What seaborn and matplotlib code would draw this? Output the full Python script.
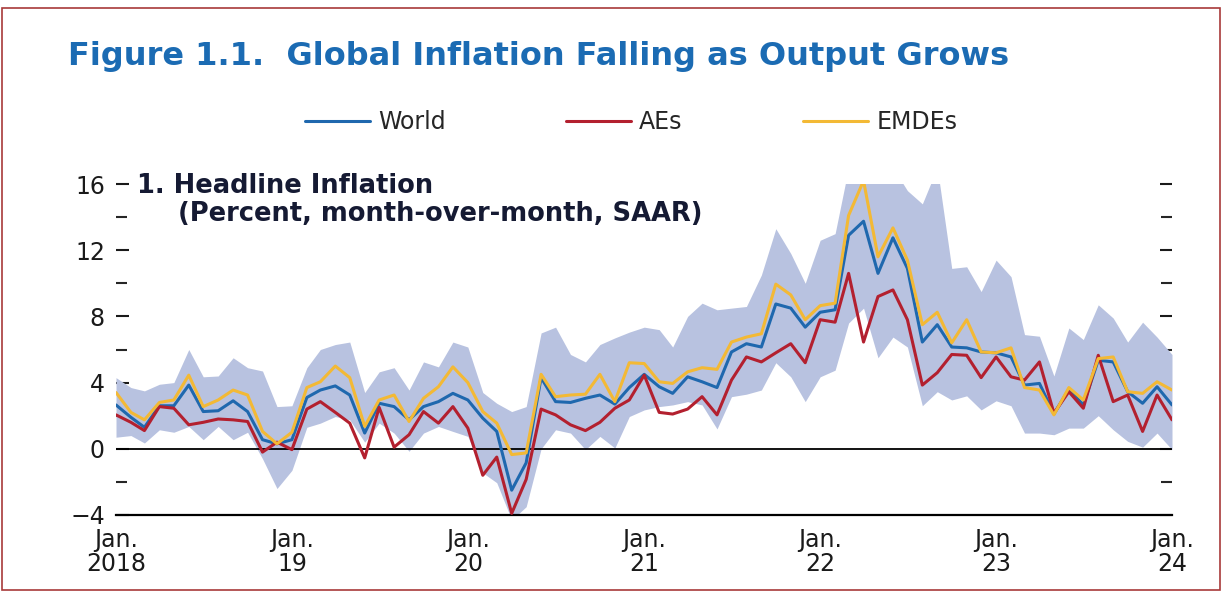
import seaborn as sns
import pandas as pd
import matplotlib.pyplot as plt
from matplotlib.patches import Rectangle

# monthly data, Jan 2018 - Jan 2024 (percent, m/m SAAR)
months = pd.date_range('2018-01-01', '2024-01-01', freq='MS')

world = [2.65, 1.9, 1.3, 2.6, 2.6, 3.85, 2.25, 2.3, 2.9, 2.25, 0.55, 0.3,
         0.55, 3.1, 3.55, 3.8, 3.25, 0.95, 2.75, 2.55, 1.75, 2.55, 2.85, 3.35,
         2.95, 1.85, 1.05, -2.5, -0.85, 4.3, 2.85, 2.8, 3.05, 3.25, 2.7, 3.7,
         4.5, 3.75, 3.35, 4.35, 4.05, 3.7, 5.85, 6.35, 6.15, 8.75, 8.5, 7.35,
         8.25, 8.4, 12.9, 13.75, 10.6, 12.75, 10.9, 6.45, 7.5, 6.15, 6.1, 5.85,
         5.8, 5.55, 3.85, 3.95, 2.1, 3.6, 2.65, 5.35, 5.25, 3.45, 2.75, 3.75,
         2.65]
aes = [2.05, 1.6, 1.1, 2.55, 2.45, 1.45, 1.6, 1.8, 1.75, 1.65, -0.2, 0.4,
       -0.05, 2.4, 2.85, 2.2, 1.55, -0.55, 2.5, 0.1, 0.85, 2.25, 1.55, 2.55,
       1.25, -1.6, -0.5, -3.9, -1.85, 2.4, 2.05, 1.45, 1.1, 1.6, 2.45, 2.95,
       4.45, 2.2, 2.1, 2.4, 3.15, 2.05, 4.15, 5.55, 5.25, 5.8, 6.35, 5.2,
       7.8, 7.65, 10.6, 6.45, 9.2, 9.6, 7.8, 3.85, 4.6, 5.7, 5.65, 4.3,
       5.55, 4.35, 4.15, 5.25, 2.15, 3.45, 2.45, 5.65, 2.85, 3.25, 1.05, 3.25,
       1.75]
emdes = [3.4, 2.2, 1.75, 2.8, 2.95, 4.45, 2.55, 2.95, 3.55, 3.25, 1.05, 0.3,
         1.0, 3.7, 4.05, 5.0, 4.3, 1.35, 2.95, 3.25, 1.65, 3.05, 3.75, 4.95,
         4.0, 2.25, 1.55, -0.35, -0.25, 4.5, 3.15, 3.25, 3.3, 4.5, 2.85, 5.2,
         5.15, 4.05, 3.95, 4.65, 4.9, 4.8, 6.45, 6.75, 6.95, 9.95, 9.3, 7.8,
         8.65, 8.8, 14.1, 16.2, 11.6, 13.35, 11.4, 7.5, 8.25, 6.4, 7.8, 5.85,
         5.8, 6.1, 3.7, 3.55, 2.05, 3.7, 2.95, 5.45, 5.55, 3.45, 3.35, 4.05,
         3.55]
band_hi = [4.3, 3.7, 3.5, 3.9, 4.0, 6.0, 4.35, 4.4, 5.5, 4.9, 4.7, 2.55,
           2.6, 4.9, 6.0, 6.3, 6.45, 3.4, 4.65, 4.9, 3.55, 5.25, 4.95, 6.45,
           6.15, 3.4, 2.75, 2.25, 2.55, 7.0, 7.35, 5.7, 5.25, 6.3, 6.7, 7.05,
           7.35, 7.2, 6.15, 8.0, 8.8, 8.4, 8.5, 8.6, 10.5, 13.3, 11.8, 10.0,
           12.6, 13.0, 17.0, 17.5, 17.5, 17.0, 15.6, 14.8, 17.0, 10.9, 11.0, 9.5,
           11.4, 10.4, 6.9, 6.8, 4.4, 7.3, 6.6, 8.7, 7.9, 6.45, 7.65, 6.75,
           5.7]
band_lo = [0.7, 0.8, 0.35, 1.15, 1.0, 1.35, 0.55, 1.35, 0.55, 1.0, -0.6, -2.4,
           -1.3, 1.3, 1.55, 1.95, 1.75, 0.4, 1.55, 0.95, -0.15, 0.95, 1.35, 1.05,
           0.75, -1.45, -2.05, -4.3, -3.5, 0.0, 1.15, 0.95, -0.05, 0.75, 0.05, 1.95,
           2.35, 2.55, 2.65, 2.85, 2.65, 1.2, 3.15, 3.3, 3.55, 5.2, 4.35, 2.85,
           4.35, 4.75, 7.6, 8.5, 5.5, 6.75, 6.15, 2.6, 3.45, 2.95, 3.2, 2.35,
           2.9, 2.6, 0.95, 0.95, 0.85, 1.25, 1.25, 2.0, 1.15, 0.45, 0.1, 0.95,
           -0.05]

year_ticks = pd.date_range('2018-01-01', '2024-01-01', freq='YS')
xtick_labels = ['Jan.\n2018', 'Jan.\n19', 'Jan.\n20', 'Jan.\n21',
                'Jan.\n22', 'Jan.\n23', 'Jan.\n24']

colors = {'World': '#1f68ae', 'AEs': '#b3202f', 'EMDEs': '#f3b935'}

df = pd.DataFrame({'month': months, 'World': world, 'AEs': aes, 'EMDEs': emdes})
df_long = df.melt(id_vars='month', var_name='series', value_name='inflation')

sns.set_style('white')
plt.rcParams['font.family'] = ['DejaVu Sans']
plt.rcParams['axes.unicode_minus'] = True

fig = plt.figure(figsize=(12.25, 5.92), dpi=100)
ax = fig.add_axes([116 / 1225, 1 - 515 / 592, 1056 / 1225, 331 / 592])

ax.fill_between(months, band_lo, band_hi, color='#b8c2e0', lw=0, zorder=1)
ax.axhline(0, color='black', lw=1.3, zorder=2)
sns.lineplot(data=df_long, x='month', y='inflation', hue='series',
             palette=colors, lw=2.2, ax=ax, zorder=3)

ax.set_xlim(months[0], months[-1])
ax.set_ylim(-4, 16)
ax.set(xlabel='', ylabel='')

ax.set_xticks(year_ticks)
ax.set_xticklabels(xtick_labels)
ax.set_yticks([-4, 0, 4, 8, 12, 16])
ax.set_yticks([-2, 2, 6, 10, 14], minor=True)

ax.tick_params(axis='x', direction='in', length=8, width=1.6, pad=9,
               labelsize=17, colors='#1a1a1a')
ax.tick_params(axis='y', which='major', direction='in', length=9, width=1.5,
               pad=8, labelsize=17, right=True, left=True, labelright=False,
               colors='#1a1a1a')
ax.tick_params(axis='y', which='minor', direction='in', length=8, width=1.5,
               right=True, left=True)
for lab in ax.get_xticklabels():
    lab.set_linespacing(1.05)

sns.despine(ax=ax, left=True, right=True, top=True)
ax.spines['bottom'].set_linewidth(1.6)
ax.spines['bottom'].set_color('black')

sns.move_legend(ax, 'center', bbox_to_anchor=(0.515, 1 - 122 / 592),
                bbox_transform=fig.transFigure, ncol=3, frameon=False,
                title=None, fontsize=17, handlelength=2.75,
                columnspacing=5.1, handletextpad=0.35)

# titles
fig.text(68 / 1225, 1 - 56 / 592, 'Figure 1.1.  Global Inflation Falling as Output Grows',
         fontsize=23, fontweight='bold', color='#1b6bb3', va='center')
fig.text(137 / 1225, 1 - 173 / 592, '1. Headline Inflation',
         fontsize=18.5, fontweight='bold', color='#151a33', va='top')
fig.text(178 / 1225, 1 - 201 / 592, '(Percent, month-over-month, SAAR)',
         fontsize=18.5, fontweight='bold', color='#151a33', va='top')

fig.patches.append(Rectangle((0.002, 0.003), 0.994, 0.984, transform=fig.transFigure,
                             fill=False, edgecolor='#a83a3a', lw=1.2))

fig.savefig('out.png', dpi=100)
